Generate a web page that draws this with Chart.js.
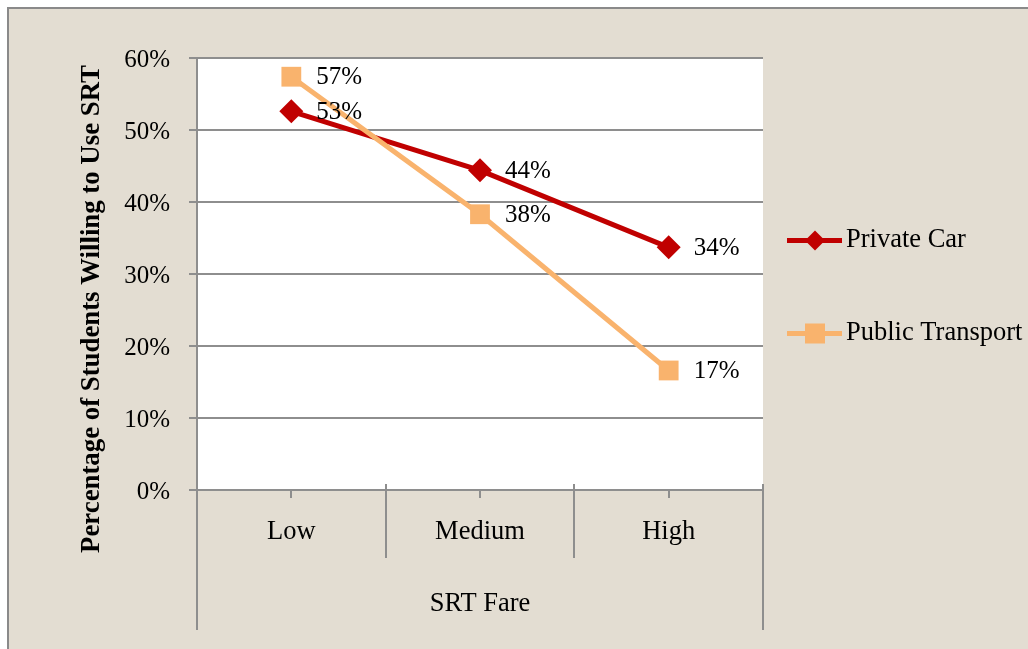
<!DOCTYPE html>
<html>
<head>
<meta charset="utf-8">
<script src="https://cdn.jsdelivr.net/npm/chart.js@4.4.1/dist/chart.umd.min.js"></script>
<style>
  html, body { margin: 0; padding: 0; background: #fff; }
  canvas { display: block; }
</style>
</head>
<body>
<canvas id="chart" width="1028" height="649"></canvas>
<script>
const categories = ["Low", "Medium", "High"];
const privateCar = [52.6, 44.4, 33.7];
const publicTransport = [57.4, 38.3, 16.6];
const yTickValues = [0, 10, 20, 30, 40, 50, 60];
const seriesNames = ["Private Car", "Public Transport"];
const yTitle = "Percentage of Students Willing to Use SRT";
const xTitle = "SRT Fare";

const FONT = "'Liberation Serif', 'Times New Roman', serif";
const GRID = "#8e8e8e";
const RED = "#C00000";
const ORANGE = "#F9B36D";

// frame + white plot area
const backdrop = {
  id: "backdrop",
  beforeDraw(chart) {
    const { ctx, width, height, chartArea } = chart;
    ctx.save();
    ctx.fillStyle = "#fff";
    ctx.fillRect(0, 0, width, height);
    ctx.fillStyle = "#E3DDD2";
    ctx.fillRect(8, 8, width, height);
    ctx.strokeStyle = "#8a8a8a";
    ctx.lineWidth = 2;
    ctx.beginPath();
    ctx.moveTo(8, height);
    ctx.lineTo(8, 8);
    ctx.lineTo(width, 8);
    ctx.stroke();
    ctx.fillStyle = "#fff";
    ctx.fillRect(chartArea.left, chartArea.top, chartArea.width, chartArea.height);
    ctx.restore();
  },
};

// percent labels next to each point
const pointLabels = {
  id: "pointLabels",
  afterDatasetsDraw(chart) {
    const { ctx } = chart;
    ctx.save();
    ctx.font = "25px " + FONT;
    ctx.fillStyle = "#000";
    ctx.textAlign = "left";
    ctx.textBaseline = "middle";
    chart.data.datasets.forEach((ds, i) => {
      chart.getDatasetMeta(i).data.forEach((pt, j) => {
        ctx.fillText(Math.round(ds.data[j]) + "%", pt.x + 25, pt.y + 1);
      });
    });
    ctx.restore();
  },
};

// category boxes under the x axis, y title, legend
const extras = {
  id: "extras",
  afterDraw(chart) {
    const { ctx, chartArea } = chart;
    const xs = chart.scales.x;
    const step = (xs.right - xs.left) / categories.length;
    const rowBottom = xs.top + 68;
    ctx.save();
    ctx.strokeStyle = GRID;
    ctx.lineWidth = 2;
    ctx.beginPath();
    for (let i = 0; i <= categories.length; i++) {
      const px = Math.round(xs.left + i * step);
      const outer = i === 0 || i === categories.length;
      ctx.moveTo(px, xs.top - 6);
      ctx.lineTo(px, outer ? xs.bottom : rowBottom);
    }
    ctx.stroke();

    // y axis title
    ctx.save();
    ctx.translate(92, (chartArea.top + rowBottom) / 2 + 1);
    ctx.rotate(-Math.PI / 2);
    ctx.font = "bold 26.8px " + FONT;
    ctx.fillStyle = "#000";
    ctx.textAlign = "center";
    ctx.textBaseline = "middle";
    ctx.fillText(yTitle, 0, 0);
    ctx.restore();

    // legend
    const lx = chartArea.right + 24;
    const midY = (chartArea.top + chartArea.bottom) / 2 + 13;
    chart.data.datasets.forEach((ds, i) => {
      const y = midY + (i - 0.5) * 93;
      ctx.strokeStyle = ds.borderColor;
      ctx.lineWidth = 5;
      ctx.beginPath();
      ctx.moveTo(lx, y);
      ctx.lineTo(lx + 55, y);
      ctx.stroke();
      const cx = lx + 28;
      ctx.fillStyle = ds.pointBackgroundColor;
      ctx.beginPath();
      if (ds.pointStyle === "rectRot") {
        const r = 10;
        ctx.moveTo(cx, y - r);
        ctx.lineTo(cx + r, y);
        ctx.lineTo(cx, y + r);
        ctx.lineTo(cx - r, y);
        ctx.closePath();
      } else {
        ctx.rect(cx - 10, y - 10, 20, 20);
      }
      ctx.fill();
      ctx.font = "26.5px " + FONT;
      ctx.fillStyle = "#000";
      ctx.textAlign = "left";
      ctx.textBaseline = "middle";
      ctx.fillText(ds.label, lx + 59, y);
    });
    ctx.restore();
  },
};

new Chart(document.getElementById("chart"), {
  type: "line",
  data: {
    labels: categories,
    datasets: [
      {
        label: seriesNames[0],
        data: privateCar,
        borderColor: RED,
        backgroundColor: RED,
        pointBackgroundColor: RED,
        pointBorderWidth: 0,
        borderWidth: 5,
        pointStyle: "rectRot",
        pointRadius: 12,
        order: 1,
      },
      {
        label: seriesNames[1],
        data: publicTransport,
        borderColor: ORANGE,
        backgroundColor: ORANGE,
        pointBackgroundColor: ORANGE,
        pointBorderWidth: 0,
        borderWidth: 5,
        pointStyle: "rect",
        pointRadius: 14,
        order: 0,
      },
    ],
  },
  plugins: [backdrop, pointLabels, extras],
  options: {
    responsive: false,
    animation: false,
    devicePixelRatio: 1,
    layout: { padding: { left: 0, top: 58, right: 265, bottom: 19 } },
    plugins: { legend: { display: false }, tooltip: { enabled: false } },
    elements: { line: { tension: 0 } },
    scales: {
      x: {
        type: "category",
        offset: true,
        afterFit: (scale) => { scale.height = 140; },
        grid: { offset: false, drawOnChartArea: false, tickLength: 8, color: GRID, lineWidth: 2 },
        border: { color: GRID, width: 2 },
        ticks: { font: { family: FONT, size: 26.5 }, color: "#000", padding: 18, maxRotation: 0, autoSkip: false },
        title: { display: true, text: xTitle, font: { family: FONT, size: 26.5 }, color: "#000", padding: { top: 0, bottom: 10 } },
      },
      y: {
        min: yTickValues[0],
        max: yTickValues[yTickValues.length - 1],
        afterFit: (scale) => { scale.width = 197; },
        afterBuildTicks: (scale) => { scale.ticks = yTickValues.map((v) => ({ value: v })); },
        grid: { color: GRID, lineWidth: 2, tickLength: 8 },
        border: { color: GRID, width: 2 },
        ticks: {
          font: { family: FONT, size: 25 },
          color: "#000",
          padding: 19,
          labelOffset: 2,
          callback: (v) => v + "%",
        },
      },
    },
  },
});
</script>
</body>
</html>
